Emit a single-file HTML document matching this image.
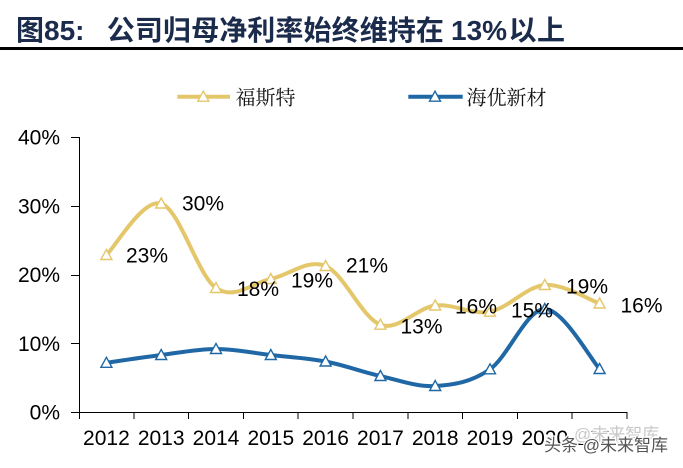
<!DOCTYPE html>
<html>
<head>
<meta charset="utf-8">
<style>
  html, body { margin: 0; padding: 0; background: #ffffff; }
  body { width: 683px; height: 468px; overflow: hidden; }
  svg { display: block; }
  .ax { font-family: "Liberation Sans", Arial, sans-serif; font-size: 21px; fill: #000; }
  .lbl { font-family: "Liberation Sans", Arial, sans-serif; font-size: 21px; fill: #000; }
  .leg { font-family: "Liberation Serif", "Noto Serif CJK SC", serif; font-size: 20px; fill: #111; }
  .title { font-family: "Liberation Sans", "Noto Sans CJK SC", sans-serif; font-size: 28px; font-weight: 700; fill: #1B2B4B; }
  .wm { font-family: "Liberation Sans", "Noto Sans CJK SC", sans-serif; font-size: 17px; paint-order: stroke; stroke: #ffffff; stroke-linejoin: round; }
</style>
</head>
<body>
<svg width="683" height="468" viewBox="0 0 683 468" xmlns="http://www.w3.org/2000/svg">
  <rect x="0" y="0" width="683" height="468" fill="#ffffff"/>

  <!-- Title -->
  <text class="title" x="16" y="40">图</text>
  <text class="title" x="44" y="40">85:</text>
  <text class="title" x="106.8 134.9 163 191.1 219.2 247.3 275.4 303.5 331.6 359.7 387.8 415.9" y="40">公司归母净利率始终维持在</text>
  <text class="title" x="451" y="40">13%</text>
  <text class="title" x="508.5 537" y="40">以上</text>
  <rect x="0" y="47" width="683" height="3" fill="#000"/>

  <!-- Legend -->
  <line x1="177.3" y1="96.7" x2="230" y2="96.7" stroke="#E5C76B" stroke-width="4"/>
  <polygon points="203.3,91.2 197.8,101.2 208.8,101.2" fill="#fff" stroke="#E5C76B" stroke-width="1.4"/>
  <text class="leg" x="235.5" y="104.6">福斯特</text>
  <line x1="408.3" y1="96.7" x2="462.7" y2="96.7" stroke="#2068A5" stroke-width="4"/>
  <polygon points="435,91.2 429.5,101.2 440.5,101.2" fill="#fff" stroke="#2068A5" stroke-width="1.4"/>
  <text class="leg" x="466.5" y="104.6">海优新材</text>

  <!-- Axes -->
  <g stroke="#000" stroke-width="1" fill="none" shape-rendering="crispEdges">
    <line x1="79.5" y1="137" x2="79.5" y2="412.5"/>
    <line x1="79" y1="412.5" x2="627.5" y2="412.5"/>
    <line x1="71" y1="137.5" x2="79" y2="137.5"/>
    <line x1="71" y1="206.5" x2="79" y2="206.5"/>
    <line x1="71" y1="275.5" x2="79" y2="275.5"/>
    <line x1="71" y1="343.5" x2="79" y2="343.5"/>
    <line x1="71" y1="412.5" x2="79" y2="412.5"/>
    <line x1="79.5" y1="412" x2="79.5" y2="419"/>
    <line x1="133.8" y1="412" x2="133.8" y2="419"/>
    <line x1="188.6" y1="412" x2="188.6" y2="419"/>
    <line x1="243.4" y1="412" x2="243.4" y2="419"/>
    <line x1="298.2" y1="412" x2="298.2" y2="419"/>
    <line x1="353" y1="412" x2="353" y2="419"/>
    <line x1="407.8" y1="412" x2="407.8" y2="419"/>
    <line x1="462.6" y1="412" x2="462.6" y2="419"/>
    <line x1="517.4" y1="412" x2="517.4" y2="419"/>
    <line x1="572.2" y1="412" x2="572.2" y2="419"/>
    <line x1="627" y1="412" x2="627" y2="419"/>
  </g>

  <!-- Y labels -->
  <g class="ax" text-anchor="end">
    <text x="60" y="144.5">40%</text>
    <text x="60" y="213.3">30%</text>
    <text x="60" y="282">20%</text>
    <text x="60" y="350.8">10%</text>
    <text x="60" y="419.5">0%</text>
  </g>

  <!-- X labels -->
  <g class="ax" text-anchor="middle">
    <text x="106.4" y="445">2012</text>
    <text x="161.2" y="445">2013</text>
    <text x="216" y="445">2014</text>
    <text x="270.8" y="445">2015</text>
    <text x="325.6" y="445">2016</text>
    <text x="380.4" y="445">2017</text>
    <text x="435.2" y="445">2018</text>
    <text x="490" y="445">2019</text>
    <text x="544.8" y="445">2020</text>
    <text x="599.6" y="445">2021</text>
  </g>

  <!-- Yellow series (福斯特) -->
  <path fill="none" stroke="#E5C76B" stroke-width="4" stroke-linejoin="round" stroke-linecap="round"
    d="M106.4,255
       C115.53,246.42 142.93,198.0 161.2,203.5
       C179.47,209.0 197.73,275.42 216,288
       C234.27,300.58 252.53,282.67 270.8,279
       C289.07,275.33 307.33,258.38 325.6,266
       C343.87,273.62 362.13,318.12 380.4,324.7
       C398.67,331.28 416.93,307.67 435.2,305.5
       C453.47,303.33 471.73,315.12 490,311.7
       C508.27,308.28 526.53,286.37 544.8,285
       C563.07,283.63 590.47,300.42 599.6,303.5"/>

  <!-- Blue series (海优新材) -->
  <path fill="none" stroke="#2068A5" stroke-width="4" stroke-linejoin="round" stroke-linecap="round"
    d="M106.4,362.8
       C115.53,361.5 142.93,357.3 161.2,355
       C179.47,352.7 197.73,349 216,349
       C234.27,349 252.53,352.92 270.8,355
       C289.07,357.08 307.33,358.0 325.6,361.5
       C343.87,365.0 362.13,371.92 380.4,376
       C398.67,380.08 416.93,387.12 435.2,386
       C453.47,384.88 471.73,382.13 490,369.3
       C508.27,356.47 526.53,309.05 544.8,309
       C563.07,308.95 590.47,359 599.6,369"/>

  <!-- Yellow markers -->
  <g fill="#fff" stroke="#E5C76B" stroke-width="1.4">
    <polygon points="106.4,249.5 100.9,259.5 111.9,259.5"/>
    <polygon points="161.2,198 155.7,208 166.7,208"/>
    <polygon points="216,282.5 210.5,292.5 221.5,292.5"/>
    <polygon points="270.8,273.5 265.3,283.5 276.3,283.5"/>
    <polygon points="325.6,260.5 320.1,270.5 331.1,270.5"/>
    <polygon points="380.4,319.2 374.9,329.2 385.9,329.2"/>
    <polygon points="435.2,300 429.7,310 440.7,310"/>
    <polygon points="490,306.2 484.5,316.2 495.5,316.2"/>
    <polygon points="544.8,279.5 539.3,289.5 550.3,289.5"/>
    <polygon points="599.6,298 594.1,308 605.1,308"/>
  </g>

  <!-- Blue markers -->
  <g fill="#fff" stroke="#2068A5" stroke-width="1.4">
    <polygon points="106.4,357.3 100.9,367.3 111.9,367.3"/>
    <polygon points="161.2,349.5 155.7,359.5 166.7,359.5"/>
    <polygon points="216,343.5 210.5,353.5 221.5,353.5"/>
    <polygon points="270.8,349.5 265.3,359.5 276.3,359.5"/>
    <polygon points="325.6,356 320.1,366 331.1,366"/>
    <polygon points="380.4,370.5 374.9,380.5 385.9,380.5"/>
    <polygon points="435.2,380.5 429.7,390.5 440.7,390.5"/>
    <polygon points="490,363.8 484.5,373.8 495.5,373.8"/>
    <polygon points="544.8,303.5 539.3,313.5 550.3,313.5"/>
    <polygon points="599.6,363.5 594.1,373.5 605.1,373.5"/>
  </g>

  <!-- Data labels -->
  <g class="lbl">
    <text x="126" y="262.7">23%</text>
    <text x="182" y="210.7">30%</text>
    <text x="237" y="296">18%</text>
    <text x="291" y="287.3">19%</text>
    <text x="346" y="272.7">21%</text>
    <text x="400.5" y="333.3">13%</text>
    <text x="455" y="313.3">16%</text>
    <text x="511" y="317.7">15%</text>
    <text x="566" y="293.3">19%</text>
    <text x="620.5" y="312.3">16%</text>
  </g>

  <!-- Watermark -->
  <text class="wm" x="574" y="440" fill="#c8c8c8" stroke-width="3">@未来智库</text>
  <text class="wm" x="544" y="451" fill="#555555" stroke-width="2.5">头条 @未来智库</text>
</svg>
</body>
</html>
